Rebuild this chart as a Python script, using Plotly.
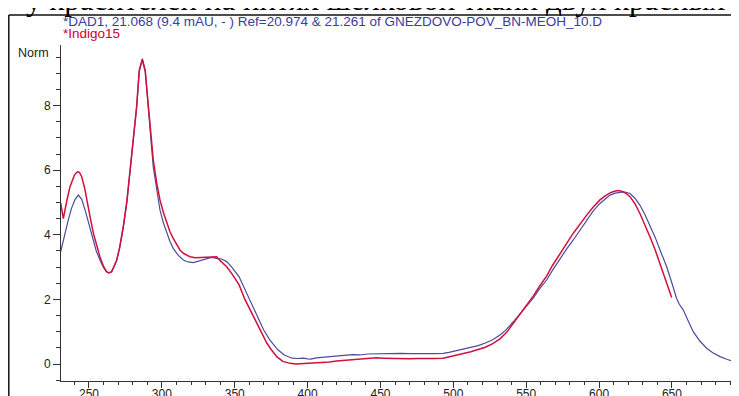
import plotly.graph_objects as go

# Wavelength (nm) and normalised absorbance values
red_nm = [230.6, 232.4, 235, 237, 240, 242, 243.5, 245, 247, 248.4, 251, 253, 255, 257.5, 260, 262, 263.5,
          265.5, 267, 269, 271, 273.5, 276, 278, 280.5, 282.7, 284.5, 286.6, 288.6, 290.7, 292.5, 294.1,
          296.5, 298.7, 301, 303.3, 305.5, 307.8, 310, 312.4, 315, 319.3, 323, 326.2, 330, 334, 337.6,
          340, 342, 344.5, 348, 353, 357, 360, 364, 368, 372, 375, 379, 383, 388, 392, 396, 400, 405,
          410, 415, 420, 425, 431, 436, 441, 447, 452, 458, 464, 470, 475, 480, 486, 493, 497, 500,
          506, 512, 517, 522, 527, 532, 536.6, 541, 545.7, 550, 554.8, 559, 564, 568, 573.2, 578,
          582.3, 587, 591.5, 596, 600.6, 604, 607.5, 610.5, 613.2, 616, 618.5, 621.2, 624.5, 628,
          631.5, 634.9, 638.5, 641.8, 646.4, 649.8]
red_val = [4.98, 4.50, 5.1, 5.49, 5.85, 5.95, 5.93, 5.80, 5.45, 5.08, 4.5, 4.05, 3.7, 3.32, 3.02, 2.86, 2.82,
           2.86, 3.0, 3.22, 3.6, 4.25, 5.05, 5.9, 6.95, 7.97, 9.1, 9.42, 9.05, 7.97, 7.1, 6.32,
           5.6, 5.08, 4.7, 4.36, 4.1, 3.89, 3.7, 3.53, 3.42, 3.32, 3.29, 3.30, 3.31, 3.31, 3.32,
           3.2, 3.1, 3.01, 2.8, 2.45, 2.0, 1.72, 1.35, 1.0, 0.65, 0.45, 0.22, 0.08, 0.02, 0.0, 0.01, 0.02, 0.03,
           0.04, 0.06, 0.09, 0.11, 0.13, 0.15, 0.17, 0.19, 0.18, 0.17, 0.17, 0.16, 0.17, 0.16, 0.17, 0.18, 0.22, 0.26,
           0.32, 0.38, 0.45, 0.52, 0.63, 0.78, 0.98, 1.25, 1.57, 1.82, 2.1, 2.4, 2.72, 3.05, 3.43, 3.75,
           4.05, 4.35, 4.61, 4.86, 5.08, 5.2, 5.3, 5.35, 5.37, 5.34, 5.28, 5.18, 4.97, 4.66,
           4.32, 3.94, 3.53, 3.12, 2.55, 2.06]

blue_nm = [230.6, 233, 235.8, 238, 240.5, 242.7, 245, 247.3, 250, 253, 255, 257.5, 260, 262, 263.5, 265.5,
           267, 269, 271, 273.5, 276, 278, 280.5, 282.7, 284.5, 286.6, 288.6, 290.5, 292.5, 294.1, 296.5,
           298.7, 301, 303.3, 305.5, 307.8, 311, 314.7, 318, 321.6, 326, 330.8, 334, 337.6, 341, 344.5,
           348, 353, 357, 360, 365, 369.8, 374, 379.6, 384, 389.3, 393, 397, 400, 402.2, 406, 410, 415,
           420, 425, 431, 436, 441, 447, 452, 458, 464, 470, 475, 480, 486, 493, 497, 500, 506, 512,
           517, 522, 527, 532, 536, 541, 545.7, 550, 554.8, 559, 564, 568, 573.2, 578, 582.3, 587,
           591.5, 596, 600.6, 604, 607.5, 611, 614, 616.6, 619, 621.2, 624.5, 628, 631.5, 634.9,
           638.5, 641.8, 644, 646.4, 650, 653.2, 655, 657.8, 661, 664.6, 669, 673.8, 678, 683, 688,
           692, 696, 698]
blue_val = [3.48, 3.95, 4.46, 4.82, 5.1, 5.23, 5.1, 4.77, 4.3, 3.84, 3.5, 3.22, 2.98, 2.86, 2.82, 2.85,
            2.98, 3.2, 3.58, 4.2, 5.0, 5.85, 6.9, 7.95, 9.05, 9.45, 9.1, 7.9, 6.95, 6.1, 5.35,
            4.77, 4.38, 4.05, 3.8, 3.58, 3.38, 3.22, 3.16, 3.14, 3.2, 3.28, 3.3, 3.27, 3.25, 3.17,
            3.0, 2.7, 2.3, 2.0, 1.5, 1.06, 0.75, 0.44, 0.28, 0.18, 0.17, 0.18, 0.16, 0.15, 0.19, 0.21, 0.24,
            0.25, 0.27, 0.29, 0.28, 0.31, 0.32, 0.31, 0.33, 0.33, 0.32, 0.33, 0.32, 0.32, 0.33, 0.36, 0.39, 0.44, 0.5,
            0.57, 0.65, 0.75, 0.9, 1.05, 1.3, 1.55, 1.78, 2.04, 2.32, 2.6, 2.9, 3.27, 3.58, 3.84, 4.16,
            4.46, 4.74, 4.97, 5.1, 5.23, 5.29, 5.32, 5.33, 5.31, 5.28, 5.14, 4.92, 4.62, 4.3,
            3.92, 3.53, 3.28, 3.01, 2.5, 2.03, 1.85, 1.67, 1.35, 1.0, 0.72, 0.49, 0.35, 0.23, 0.14,
            0.08, 0.04, 0.03]

x_ticks = [250, 300, 350, 400, 450, 500, 550, 600, 650]
y_ticks = [0, 2, 4, 6, 8]

BLUE = "#4c4c9e"
RED = "#d2103c"
OFF = 8                      # page body margin
W, H = 731, 388
L, R, T, B = 53, 0, 37, 15
PW, PH = W - L - R, H - T - B

def px(sx):
    return (sx - OFF - L) / PW

def py(sy):
    return (H - B - (sy - OFF)) / PH

fig = go.Figure()
fig.add_trace(go.Scatter(x=blue_nm, y=blue_val, mode="lines",
                         line=dict(color=BLUE, width=1.2), name="DAD1"))
fig.add_trace(go.Scatter(x=red_nm, y=red_val, mode="lines",
                         line=dict(color=RED, width=1.5), name="Indigo15"))

axis_font = dict(family="Liberation Sans, Arial, sans-serif", size=12, color="#222222")

fig.update_layout(
    width=W, height=H,
    margin=dict(l=L, r=R, t=T, b=B, pad=0),
    paper_bgcolor="white", plot_bgcolor="white",
    showlegend=False,
    xaxis=dict(range=[230.8, 696.0], showgrid=False, zeroline=False, automargin=False,
               showline=True, linecolor="#333333", linewidth=1,
               ticks="outside", ticklen=6, tickwidth=1, tickcolor="#333333",
               tickvals=x_ticks, tickfont=axis_font, ticklabelstandoff=-4,
               minor=dict(dtick=10, tick0=250, ticks="outside", ticklen=3, tickcolor="#333333")),
    yaxis=dict(range=[-0.526, 9.876], showgrid=False, zeroline=False, automargin=False,
               showline=True, linecolor="#333333", linewidth=1,
               ticks="outside", ticklen=7, tickwidth=1, tickcolor="#333333",
               tickvals=y_ticks, tickfont=axis_font,
               minor=dict(dtick=0.5, tick0=0, ticks="outside", ticklen=4, tickcolor="#333333")),
)

ann = []
ann.append(dict(text="*DAD1, 21.068 (9.4 mAU, - ) Ref=20.974 &amp; 21.261 of GNEZDOVO-POV_BN-MEOH_10.D",
                xref="paper", yref="paper", x=px(61), y=py(21), xanchor="left", yanchor="middle",
                showarrow=False, font=dict(family="Liberation Sans, Arial", size=13.5, color="#3c3c9c")))
ann.append(dict(text="*Indigo15", xref="paper", yref="paper", x=px(61), y=py(34),
                xanchor="left", yanchor="middle", showarrow=False,
                font=dict(family="Liberation Sans, Arial", size=13.5, color="#cc0033")))
ann.append(dict(text="Norm", xref="paper", yref="paper", x=px(51), y=py(53),
                xanchor="right", yanchor="middle", showarrow=False,
                font=dict(family="Liberation Sans, Arial", size=12.5, color="#222222")))
ann.append(dict(text="nm", xref="paper", yref="paper", x=px(746), y=py(391),
                xanchor="center", yanchor="middle", showarrow=False,
                font=axis_font))
ann.append(dict(text="у красителей на нитях шелковой ткани двух красных",
                xref="paper", yref="paper", x=px(24), y=py(19),
                xanchor="left", yanchor="bottom", showarrow=False,
                font=dict(family="Liberation Serif, Times New Roman, serif", size=31, color="#000000")))
fig.update_layout(annotations=ann)

# surrounding frame (left and top edges)
fig.add_shape(type="line", xref="paper", yref="paper", x0=px(8.8), x1=px(8.8), y0=py(15), y1=py(400),
              line=dict(color="#111111", width=1.5))
fig.add_shape(type="line", xref="paper", yref="paper", x0=px(8.8), x1=px(745), y0=py(15), y1=py(15),
              line=dict(color="#111111", width=1.5))

fig.write_html("out.html")
